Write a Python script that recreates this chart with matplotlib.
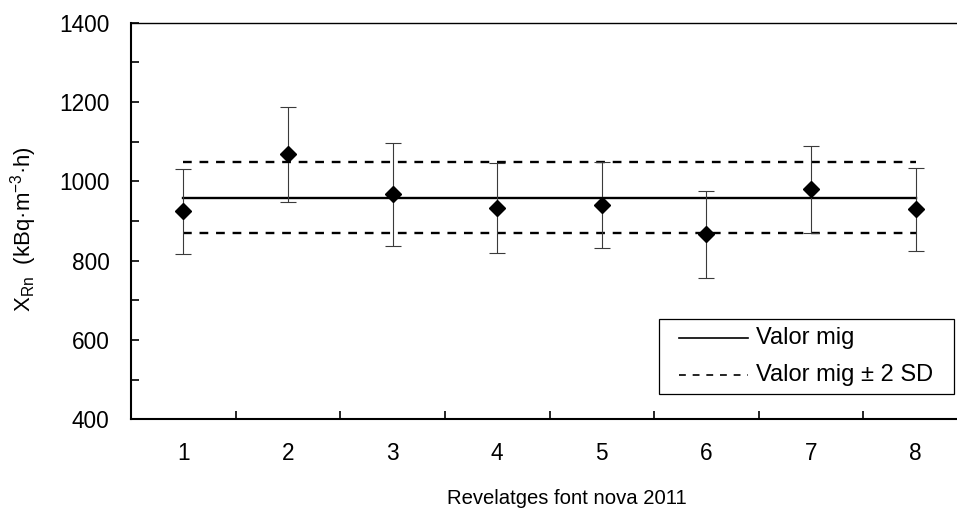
import matplotlib
matplotlib.use('Agg')
import matplotlib.pyplot as plt
from matplotlib.lines import Line2D
from matplotlib.patches import Rectangle

plt.rcParams['font.family'] = ['Liberation Sans', 'DejaVu Sans']
plt.rcParams['mathtext.fontset'] = 'custom'
plt.rcParams['mathtext.rm'] = 'Liberation Sans'

# detector results (kBq·m-3·h) with their uncertainties
detectors = [1, 2, 3, 4, 5, 6, 7, 8]
x_rn = [924, 1068, 967, 932, 940, 866, 980, 929]
x_err = [107, 120, 130, 113, 108, 109, 110, 104]

valor_mig = 959
dos_sd = 89

W, H = 957, 515


def fx(px):
    return px / W


def fy(py):
    return 1 - py / H


fig = plt.figure(figsize=(W / 100, H / 100), dpi=100)
ax = fig.add_axes([fx(131), fy(419.3), (968 - 131) / W, (419.3 - 22.7) / H])

ax.plot([detectors[0], detectors[-1]], [valor_mig, valor_mig], color='black', lw=1.7)
for lim in (valor_mig + dos_sd, valor_mig - dos_sd):
    ax.plot([detectors[0], detectors[-1]], [lim, lim], color='black', lw=1.7,
            dashes=(3.7, 3.3))

ax.errorbar(detectors, x_rn, yerr=x_err, fmt='D', color='black', ms=8,
            ecolor='#3a3a3a', elinewidth=0.8, capsize=5.5, capthick=0.8, zorder=3)

ax.set_xlim(0.5, 8.5)
ax.set_ylim(400, 1400)
ax.set_yticks(range(400, 1401, 200))
ax.set_yticks(range(500, 1400, 200), minor=True)
ax.set_xticks(detectors)
ax.set_xticks([d + 0.5 for d in detectors[:-1]], minor=True)

ax.tick_params(axis='y', which='both', direction='in', length=6, width=1.2,
               labelsize=16.3, pad=15.5)
ax.tick_params(axis='x', which='major', length=0, labelsize=16.3, pad=16.5)
ax.tick_params(axis='x', which='minor', direction='in', length=6, width=1.2)

ax.spines['right'].set_visible(False)
ax.spines['left'].set_linewidth(1.5)
ax.spines['bottom'].set_linewidth(1.5)
ax.spines['top'].set_linewidth(1.0)

fig.text(fx(24), fy(229),
         r'X$_{\mathregular{Rn}}$  (kBq·m$^{\mathregular{-3}}$·h)',
         rotation=90, ha='center', va='center', fontsize=16)
fig.text(fx(567), fy(499), 'Revelatges font nova 2011',
         ha='center', va='center', fontsize=14.6)

# legend box drawn by hand
fig.add_artist(Rectangle((fx(659), fy(394)), (954 - 659) / W, (394 - 319) / H,
                         transform=fig.transFigure, fill=False,
                         edgecolor='black', lw=0.9))
fig.add_artist(Line2D([fx(679), fx(748)], [fy(338), fy(338)],
                      transform=fig.transFigure, color='black', lw=1.2))
fig.add_artist(Line2D([fx(679), fx(748)], [fy(375), fy(375)],
                      transform=fig.transFigure, color='black', lw=1.2,
                      dashes=(4.1, 4.1)))
fig.text(fx(756.5), fy(338), 'Valor mig', ha='left', va='center', fontsize=17)
fig.text(fx(756.5), fy(375), 'Valor mig ± 2 SD', ha='left', va='center', fontsize=17)

fig.savefig('out.png', dpi=100)
